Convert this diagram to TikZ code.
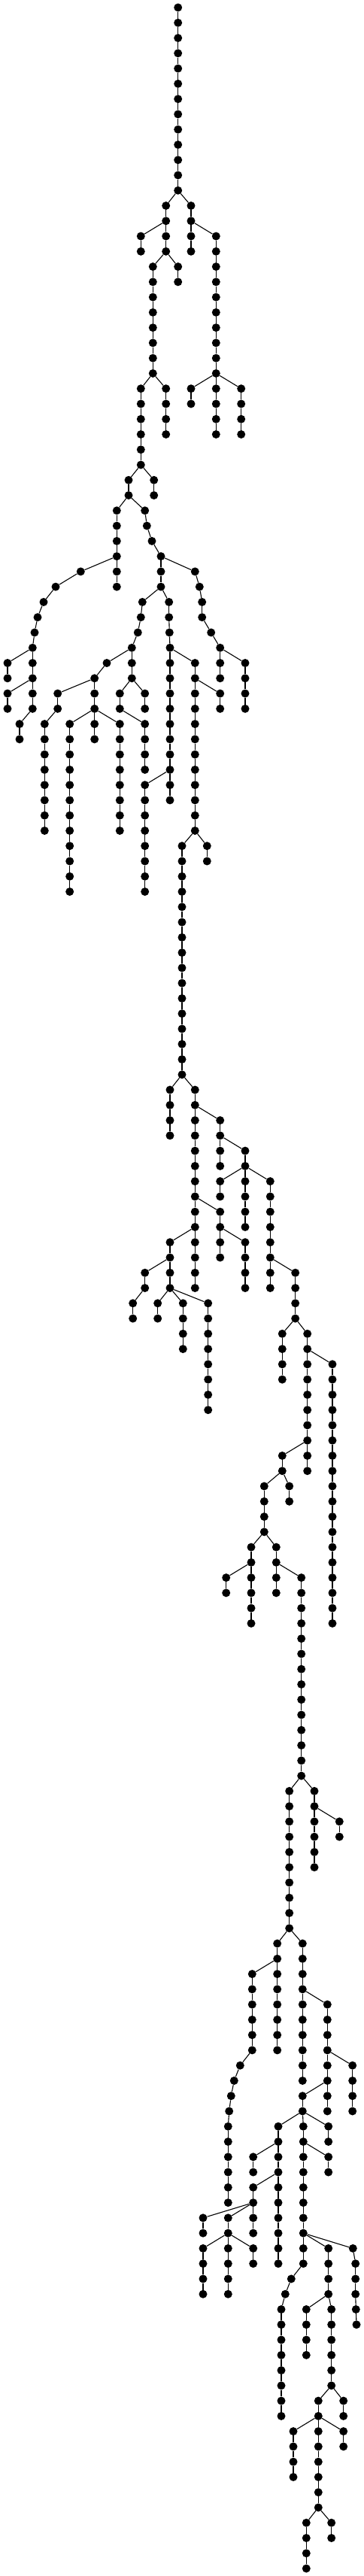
\documentclass[tikz,border=0pt]{standalone}
\usepackage{tikz}
\usetikzlibrary{positioning}

% vertical run of nodes name-from ... name-to hanging from a parent node
\newcommand{\stemrun}[5]{%
  \xdef\prevnode{#2}%
  \foreach \l in {#4,...,#5}{%
    \node[dot] (#1-\l) at (#3,\l) {};
    \draw[edge] (\prevnode) -- (#1-\l);
    \xdef\prevnode{#1-\l}%
  }}
% bent run of nodes, given as x/level pairs
\newcommand{\twigrun}[3]{%
  \xdef\prevnode{#2}%
  \foreach \x/\l in {#3}{%
    \node[dot] (#1-\l) at (\x,\l) {};
    \draw[edge] (\prevnode) -- (#1-\l);
    \xdef\prevnode{#1-\l}%
  }}

\begin{document}
\begin{tikzpicture}[
    x=1pt, y=-20.268pt,
    dot/.style={circle, fill=black, inner sep=0pt, minimum size=11pt},
    edge/.style={line width=1.1pt, black}
]
    \useasboundingbox (0,-0.4934) rectangle (484,168.4934);

    % top part
    \node[dot] (t-0) at (236.7,0) {};
    \stemrun{t}{t-0}{236.7}{1}{12}
    \stemrun{ta}{t-12}{220.7}{13}{16}
    \stemrun{tb}{ta-14}{187.3}{15}{16}
    \stemrun{tc}{ta-16}{236.7}{17}{18}
    \stemrun{td}{ta-16}{203.3}{17}{24}
    \stemrun{te}{td-24}{187.3}{25}{30}
    \stemrun{tf}{td-24}{220.7}{25}{28}
    \stemrun{tg}{t-12}{254}{13}{16}
    \stemrun{th}{tg-14}{287.3}{15}{24}
    \stemrun{ti}{th-24}{254}{25}{26}
    \stemrun{tj}{th-24}{287.3}{25}{28}
    \stemrun{tk}{th-24}{320.7}{25}{28}

    % wide part
    \stemrun{ua}{te-30}{204.7}{31}{32}
    \stemrun{ub}{te-30}{171}{31}{32}
    \stemrun{uc}{ub-32}{155.3}{33}{38}
    \twigrun{ud}{uc-36}{107.3/37, 74/38, 58/39, 50/40, 46/41, 43.3/42, 43.3/43, 43.3/44, 43.3/45, 43.3/46, 26/47, 26/48}
    \stemrun{ue}{ud-42}{10}{43}{44}
    \stemrun{uf}{ud-44}{10}{45}{46}
    \twigrun{ug}{ub-32}{192.7/33, 195.3/34, 202/35, 214/36, 214/37, 214/38}
    \twigrun{uh}{ug-36}{259.3/37, 265.3/38, 268.7/39, 268.7/40, 280.7/41, 292.7/42, 292.7/43, 292.7/44}
    \stemrun{ui}{uh-42}{326}{43}{46}
    \twigrun{uj}{ug-38}{189.3/39, 187.3/40, 183.3/41, 175.3/42, 175.3/43, 175.3/44, 159.3/45, 159.3/46, 192.7/47, 192.7/48, 192.7/49, 192.7/50}
    \stemrun{uk}{uj-44}{192.7}{45}{46}
    \twigrun{ul}{uj-42}{142/43, 125.7/44, 125.7/45, 125.7/46, 125.7/47, 125.7/48}
    \twigrun{um}{ul-44}{76.7/45, 76.7/46}
    \stemrun{um}{um-46}{59.3}{47}{54}
    \stemrun{un}{ul-46}{92.7}{47}{58}
    \stemrun{uo}{ul-46}{159.3}{47}{54}
    \twigrun{vp}{ug-38}{224.7/39, 224.7/40, 225.3/41}
    \stemrun{vp}{vp-41}{226}{42}{52}
    \stemrun{vq}{vp-50}{192.7}{51}{58}
    \stemrun{vr}{vp-42}{259.3}{43}{54}
    \stemrun{vs}{vr-44}{292.7}{45}{46}
    \stemrun{vt}{vr-54}{275.3}{55}{56}
    \stemrun{vu}{vr-54}{242}{55}{70}

    % middle part
    \stemrun{wa}{vu-70}{226}{71}{74}
    \stemrun{wb}{vu-70}{259.3}{71}{84}
    \stemrun{wc}{wb-72}{292.7}{73}{76}
    \stemrun{wd}{wc-74}{326}{75}{80}
    \stemrun{we}{wd-76}{292.7}{77}{78}
    \stemrun{wf}{wd-76}{359.3}{77}{84}
    \stemrun{wg}{wf-82}{392.7}{83}{86}
    \stemrun{wh}{wg-86}{375.3}{87}{90}
    \stemrun{wi}{wg-86}{408.7}{87}{96}
    \stemrun{wj}{wi-88}{442}{89}{106}
    \stemrun{wk}{wi-94}{375.3}{95}{96}
    \stemrun{wl}{wk-96}{384.7}{97}{98}
    \stemrun{wm}{wk-96}{351.3}{97}{100}
    \stemrun{wn}{wm-100}{334}{101}{106}
    \stemrun{wo}{wn-102}{300.7}{103}{104}
    \stemrun{wp}{wm-100}{367.3}{101}{104}
    \stemrun{wq}{wp-102}{400.7}{103}{116}
    \stemrun{wr}{wq-116}{418}{117}{122}
    \stemrun{ws}{wr-118}{451.3}{119}{120}
    \stemrun{wt}{wq-116}{384.7}{117}{126}
    \stemrun{xa}{wb-78}{292.7}{79}{82}
    \stemrun{xb}{xa-80}{326}{81}{84}
    \stemrun{xc}{wb-80}{226}{81}{84}
    \twigrun{xd}{xc-82}{192.7/83, 192.7/84, 176.7/85, 176.7/86}
    \stemrun{xf}{xc-84}{209.7}{85}{86}
    \stemrun{xg}{xc-84}{243.3}{85}{88}
    \stemrun{xh}{xc-84}{276.7}{85}{92}

    % bottom part
    \stemrun{ya}{wt-126}{368.7}{127}{134}
    \stemrun{yb}{ya-128}{335.3}{129}{134}
    \twigrun{yb}{yb-134}{319.3/135, 311.3/136, 307.3/137, 304.7/138}
    \stemrun{yb}{yb-138}{303.3}{139}{144}
    \stemrun{yc}{wt-126}{402.3}{127}{136}
    \stemrun{yd}{yc-130}{435.3}{131}{138}
    \stemrun{ye}{yd-134}{468.7}{135}{138}
    \stemrun{yf}{yd-136}{402.3}{137}{138}
    \stemrun{yg}{yf-138}{436.7}{139}{140}
    \stemrun{yh}{yf-138}{370}{139}{148}
    \stemrun{yi}{yh-140}{336.7}{141}{142}
    \stemrun{yj}{yh-142}{336.7}{143}{146}
    \stemrun{yk}{yj-144}{270}{145}{146}
    \stemrun{yl}{yj-144}{303.3}{145}{150}
    \stemrun{ym}{yl-146}{270}{147}{150}
    \stemrun{yn}{yl-146}{336.7}{147}{148}
    \stemrun{yo}{yf-138}{403.3}{139}{148}
    \twigrun{yo}{yo-148}{387.3/149, 379.3/150}
    \stemrun{yo}{yo-150}{374}{151}{158}
    \stemrun{yp}{yo-140}{436.7}{141}{142}
    \stemrun{yq}{yo-146}{436.7}{147}{150}
    \twigrun{yr}{yo-146}{469.3/147, 472.7/148, 472.7/149, 472.7/150, 473.3/151, 474/152}
    \stemrun{ys}{yq-150}{407.3}{151}{154}
    \stemrun{yt}{yq-150}{440.7}{151}{156}
    \stemrun{yu}{yt-156}{456.7}{157}{158}
    \stemrun{yv}{yt-156}{423.3}{157}{164}
    \stemrun{yw}{yv-158}{390}{159}{162}
    \stemrun{yx}{yv-158}{456.7}{159}{160}
    \stemrun{yy}{yv-164}{407.3}{165}{168}
    \stemrun{yz}{yv-164}{440.7}{165}{166}
\end{tikzpicture}
\end{document}
